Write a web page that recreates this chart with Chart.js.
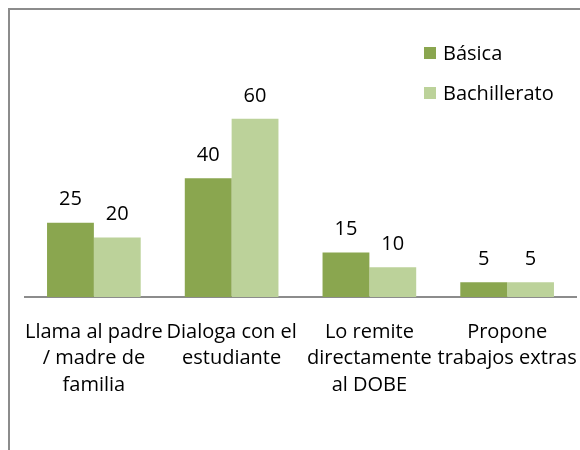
<!DOCTYPE html>
<html>
<head>
<meta charset="utf-8">
<script src="https://cdn.jsdelivr.net/npm/chart.js@4/dist/chart.umd.min.js"></script>
<style>
  html, body { margin: 0; padding: 0; background: #fff; overflow: hidden; }
  #wrap { position: relative; width: 580px; height: 450px; }
  #frame { position: absolute; left: 8px; top: 8px; width: 600px; height: 500px;
           border: 2px solid #8c8c8c; box-sizing: border-box; pointer-events: none; }
</style>
</head>
<body>
<div id="wrap">
  <canvas id="c" width="580" height="450"></canvas>
  <div id="frame"></div>
</div>
<script>
const categories = [
  ["Llama al padre", "/ madre de", "familia"],
  ["Dialoga con el", "estudiante"],
  ["Lo remite", "directamente", "al DOBE"],
  ["Propone", "trabajos extras"]
];
const seriesNames = ["Básica", "Bachillerato"];
const basica = [25, 40, 15, 5];
const bachillerato = [20, 60, 10, 5];
const colors = ["#8aa64f", "#bcd29a"];

const FONT = "'Open Sans', sans-serif";
const FSIZE = 20;

const labelPlugin = {
  id: 'valueLabels',
  afterDatasetsDraw(chart) {
    const ctx = chart.ctx;
    ctx.save();
    ctx.font = FSIZE + "px " + FONT;
    ctx.fillStyle = "#000";
    ctx.textAlign = "center";
    ctx.textBaseline = "middle";
    chart.data.datasets.forEach((ds, di) => {
      const meta = chart.getDatasetMeta(di);
      meta.data.forEach((el, i) => {
        ctx.fillText(String(ds.data[i]), el.x, el.y - 23);
      });
    });
    ctx.restore();
  }
};

const legendPlugin = {
  id: 'customLegend',
  afterDraw(chart) {
    const ctx = chart.ctx;
    ctx.save();
    ctx.font = FSIZE + "px " + FONT;
    ctx.textAlign = "left";
    ctx.textBaseline = "middle";
    chart.data.datasets.forEach((ds, di) => {
      const cy = 53 + di * 40;
      ctx.fillStyle = ds.backgroundColor;
      ctx.fillRect(424, cy - 6, 12, 12);
      ctx.fillStyle = "#000";
      ctx.fillText(ds.label, 443, cy + 1);
    });
    ctx.restore();
  }
};

new Chart(document.getElementById('c'), {
  type: 'bar',
  data: {
    labels: categories,
    datasets: [
      { label: seriesNames[0], data: basica, backgroundColor: colors[0] },
      { label: seriesNames[1], data: bachillerato, backgroundColor: colors[1] }
    ]
  },
  options: {
    responsive: false,
    animation: false,
    devicePixelRatio: 1,
    layout: { padding: { left: 25, right: 4, top: 0, bottom: 0 } },
    plugins: { legend: { display: false }, tooltip: { enabled: false } },
    datasets: { bar: { categoryPercentage: 0.68, barPercentage: 1.0 } },
    scales: {
      x: {
        grid: { display: false, drawTicks: false },
        border: { display: true, color: '#8c8c8c', width: 2 },
        ticks: { color: '#000', font: { family: FONT, size: FSIZE, lineHeight: '26.5px' }, padding: 22, maxRotation: 0, autoSkip: false },
        afterFit(scale) { scale.height = 153; scale.paddingLeft = 0; scale.paddingRight = 0; }
      },
      y: {
        display: false,
        min: 0, max: 100
      }
    }
  },
  plugins: [labelPlugin, legendPlugin]
});
</script>
</body>
</html>
